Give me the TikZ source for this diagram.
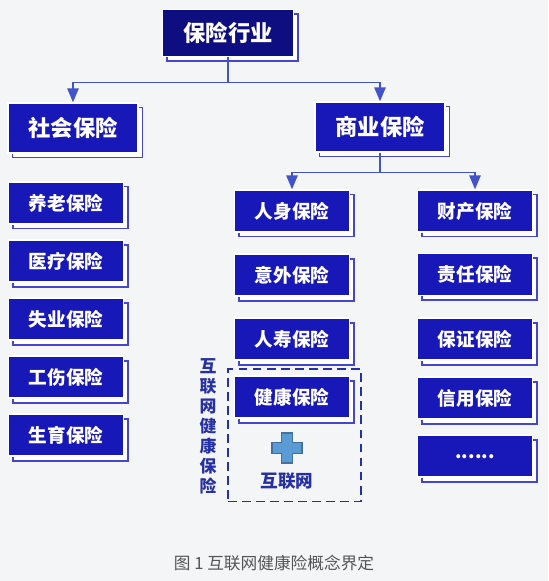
\documentclass[tikz,border=0pt]{standalone}
\usepackage{fontspec}
\setmainfont{Noto Sans CJK SC}
\usepackage{tikz}
\usetikzlibrary{arrows,shapes,positioning,shadows,fit}
\usepackage{xcolor}
\definecolor{inbg}{RGB}{244,245,247}
\definecolor{innavy}{RGB}{14,14,128}
\definecolor{inblue}{RGB}{24,24,184}
\definecolor{inedge}{RGB}{70,70,205}
\definecolor{inline}{RGB}{66,82,200}
\definecolor{indash}{RGB}{38,48,165}
\definecolor{incross}{RGB}{91,155,213}
\definecolor{incrossdk}{RGB}{65,113,156}
\definecolor{incap}{RGB}{85,85,85}
\tikzstyle{arrow} = [thick,->,>=triangle 45,color=inline]
\tikzstyle{insbox} = [rectangle, minimum width=2.3cm, minimum height=0.84cm, text centered, draw=white, fill=inblue, line width=0.9pt, text=white, font=\bfseries\fontsize{10.6}{12}\selectfont, copy shadow={shadow xshift=0.09cm, shadow yshift=-0.09cm, fill=white, draw=inedge, line width=1.1pt}]
\tikzstyle{catbox} = [insbox, minimum width=2.6cm, minimum height=1.0cm, font=\bfseries\fontsize{12.7}{14}\selectfont]
\tikzstyle{dashbox} = [rectangle, draw=indash, dashed, line width=1.1pt, dash pattern=on 5pt off 3pt]

\begin{document}
\begin{tikzpicture}[x=0.02cm,y=-0.02cm]
\fill[inbg] (0,0) rectangle (548,581);
\useasboundingbox (0,0) rectangle (548,581);

% top level
\node[catbox, fill=innavy, minimum width=2.62cm, minimum height=0.94cm] (ins) at (228,33) {保险行业};
\node[catbox] (social) at (73,128) {社会保险};
\node[catbox] (commerce) at (380,127) {商业保险};
\draw[arrow] (ins.south) -- ++(0,-0.5cm) -| (social.north);
\draw[arrow] (ins.south) -- ++(0,-0.5cm) -| (commerce.north);

% social insurance
\node[insbox] (pension) at (66,203) {养老保险};
\node[insbox, below=0.29cm of pension] (medical) {医疗保险};
\node[insbox, below=0.29cm of medical] (unemploy) {失业保险};
\node[insbox, below=0.29cm of unemploy] (injury) {工伤保险};
\node[insbox, below=0.29cm of injury] (birth) {生育保险};

% commercial insurance - persons
\node[insbox] (person) at (292,211) {人身保险};
\node[insbox, below=0.41cm of person] (accident) {意外保险};
\node[insbox, below=0.41cm of accident] (life) {人寿保险};
\node[insbox, below=0.29cm of life] (health) {健康保险};

% commercial insurance - property
\node[insbox] (property) at (475,211) {财产保险};
\node[insbox, below=0.40cm of property] (liability) {责任保险};
\node[insbox, below=0.42cm of liability] (surety) {保证保险};
\node[insbox, below=0.31cm of surety] (credit) {信用保险};
\node[insbox, below=0.29cm of credit] (more) {......};
\draw[arrow] (commerce.south) -- ++(0,-0.4cm) -| (person.north);
\draw[arrow] (commerce.south) -- ++(0,-0.4cm) -| (property.north);

% internet health insurance
\draw[fill=incross, draw=incrossdk, line width=0.8pt] (281.5,433) -- (292.5,433) -- (292.5,442.5) -- (302,442.5) -- (302,453.5) -- (292.5,453.5) -- (292.5,463) -- (281.5,463) -- (281.5,453.5) -- (272,453.5) -- (272,442.5) -- (281.5,442.5) -- cycle;
\node[font=\bfseries\fontsize{10}{12}\selectfont, text=indash] (net) at (287,481) {互联网};
\node[dashbox, fit=(health)(net), inner xsep=0.17cm, inner ysep=0.12cm, xshift=0.05cm] (web) {};
\node[font=\bfseries\fontsize{9.6}{11.4}\selectfont, text=indash, align=center] (label) at (208,426) {互\\联\\网\\健\\康\\保\\险};

% caption
\node[font=\fontsize{9.5}{11}\selectfont, text=incap] (cap) at (274,563) {图 1 互联网健康险概念界定};
\end{tikzpicture}
\end{document}
